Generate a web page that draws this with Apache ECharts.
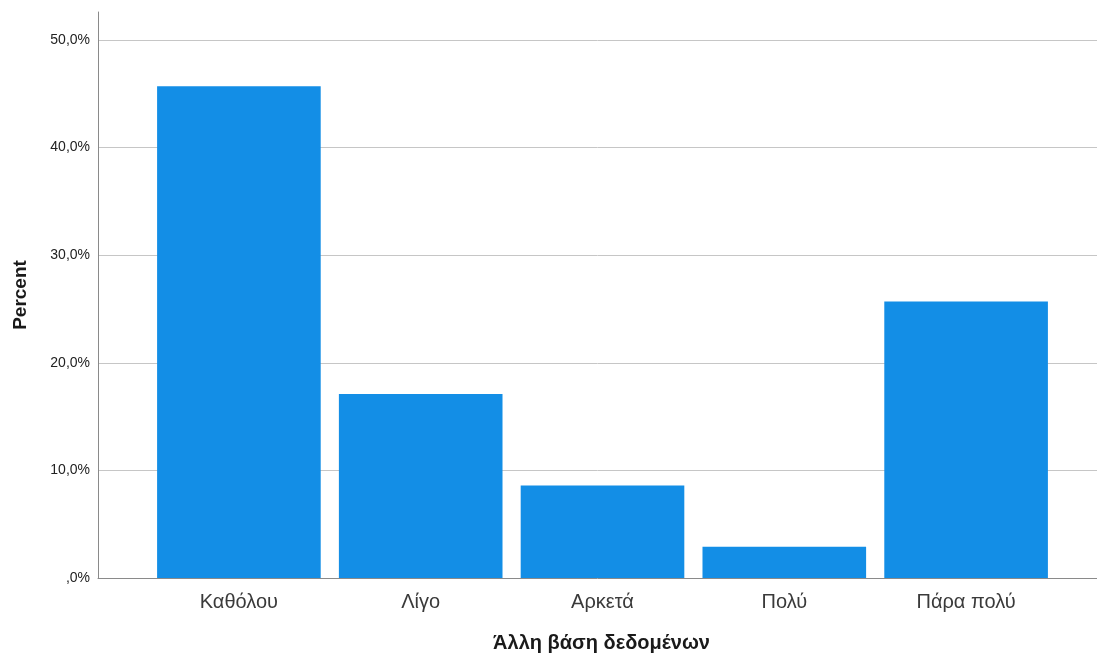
<!DOCTYPE html>
<html>
<head>
<meta charset="utf-8">
<script src="https://cdn.jsdelivr.net/npm/echarts@6/dist/echarts.min.js"></script>
<style>
  html, body { margin: 0; padding: 0; background: #fff; }
  #chart { width: 1097px; height: 654px; }
</style>
</head>
<body>
<div id="chart"></div>
<script>
// Response categories and their share of respondents (%)
const categories = ['Καθόλου', 'Λίγο', 'Αρκετά', 'Πολύ', 'Πάρα πολύ'];
const percents = [45.7, 17.1, 8.6, 2.9, 25.7];
// Value-axis tick labels (SPSS-style comma decimals)
const yTickLabels = [',0%', '10,0%', '20,0%', '30,0%', '40,0%', '50,0%'];
const yStep = 10;
const yTop = 52.6;

const font = "'Liberation Sans', Arial, sans-serif";

const chart = echarts.init(document.getElementById('chart'), null, { renderer: 'canvas' });

function tickLabel(v) {
  const i = Math.round(v / yStep);
  if (Math.abs(v - i * yStep) > 1e-6 || i >= yTickLabels.length) return '';
  return yTickLabels[i];
}

chart.setOption({
  backgroundColor: '#ffffff',
  animation: false,
  grid: [
    // full-width frame: value axis, gridlines and baseline
    { left: 98, right: 0, top: 12, bottom: 76, containLabel: false, outerBoundsMode: 'none' },
    // inset band for the bars and category labels
    { left: 148, right: 40, top: 12, bottom: 76, containLabel: false, outerBoundsMode: 'none' }
  ],
  xAxis: [
    {
      gridIndex: 0, type: 'value', min: 0, max: 1,
      axisLine: { show: true, onZero: false, lineStyle: { color: '#8a8a8a', width: 1 } },
      axisTick: { show: false }, axisLabel: { show: false }, splitLine: { show: false },
      name: 'Άλλη βάση δεδομένων', nameLocation: 'middle', nameGap: 55,
      nameTextStyle: { fontFamily: font, fontSize: 20, fontWeight: 'bold', color: '#1a1a1a', padding: [0, 0, 0, 8] }
    },
    {
      gridIndex: 1, type: 'category', data: categories,
      axisLine: { show: false }, axisTick: { show: false },
      axisLabel: { fontFamily: font, fontSize: 20, color: '#3a3a3a', margin: 14 }
    }
  ],
  yAxis: [
    {
      gridIndex: 0, type: 'value', min: 0, max: yTop, interval: yStep,
      axisLine: { show: true, lineStyle: { color: '#8a8a8a', width: 1 } },
      axisTick: { show: false },
      axisLabel: {
        fontFamily: font, fontSize: 14, color: '#222', margin: 8,
        padding: [4, 0, 0, 0],
        showMaxLabel: false, formatter: tickLabel
      },
      splitLine: { show: true, showMinLine: false, showMaxLine: false, lineStyle: { color: '#c6c6c6', width: 1 } },
      name: 'Percent', nameLocation: 'middle', nameGap: 68, nameRotate: 90,
      nameTextStyle: { fontFamily: font, fontSize: 19, fontWeight: 'bold', color: '#1a1a1a' }
    },
    {
      gridIndex: 1, type: 'value', min: 0, max: yTop, interval: yStep, show: false,
      splitLine: { show: false }
    }
  ],
  series: [{
    type: 'bar',
    xAxisIndex: 1, yAxisIndex: 1,
    data: percents,
    barCategoryGap: '10%',
    itemStyle: { color: '#138ee6' },
    z: 3
  }]
});
</script>
</body>
</html>
